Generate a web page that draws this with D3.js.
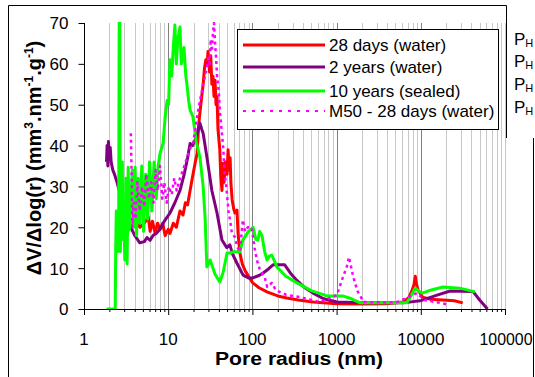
<!DOCTYPE html>
<html>
<head>
<meta charset="utf-8">
<script src="https://cdn.jsdelivr.net/npm/d3@7"></script>
<style>
  body { margin: 0; background: #fff; }
  svg { display: block; }
  text { font-family: "Liberation Sans", Arial, sans-serif; fill: #000; }
</style>
</head>
<body>
<svg id="chart" width="535" height="377"></svg>
<script>
// Pore size distributions: [pore radius (nm), dV/dlog(r)]
const water28d = [
  [3.9,26],[4.2,22],[4.6,20],[5.2,21],[5.8,22.5],[6.1,19],[6.5,21.5],[7.0,18.5],[7.5,21],[8.0,19.5],
  [8.6,21],[9.2,18],[10,19.5],[10.5,18.5],[11.5,21],[12.5,20],[13.8,24],[15,23],[16,26],[17,25.5],
  [18.2,29],[19.7,33],[21,36],[22,38],[23,45],[23.8,48],[25,52],[26,55],[27,59],[28,61],
  [29,60],[29.7,63],[31,58],[32,62],[33,55],[34,57],[35,52],[36,56],[37,50],[38,52],
  [39,44],[41,39],[42,33],[43.5,29],[44.7,35.7],[46,31],[48,36],[50,33],[51.4,39],[53,34],
  [54.4,37],[55.5,31],[57.5,26.7],[60,24.5],[62,23.5],[65.6,24.2],[67.5,18.6],[71,13.7],[76,11],[81.5,9.5],
  [90,8],[101,6.4],[120,5.2],[149,4.2],[200,3.2],[256,2.7],[350,2.2],[525,1.7],[1000,1.3],[2050,1.2],
  [4000,1.3],[6150,1.7],[7200,2.8],[7900,4.6],[8300,6],[8600,8],[8900,6],[9300,4.6],[10500,2.9],[13000,2.4],
  [18300,2.2],[25000,2],[31500,1.5]
];
const water2y = [
  [1.85,36],[1.88,40],[1.92,35],[1.95,41],[2.0,37],[2.05,39.5],[2.1,36],[2.2,34],[2.3,33],[2.47,31],
  [2.7,28],[3.0,25.5],[3.24,23.5],[3.6,20],[4.0,18],[4.6,16.2],[5.2,16.5],[5.6,17.5],[6.1,16.8],[6.6,18],
  [7.2,18.5],[8,19.5],[9,21.5],[10.5,23.5],[12,26],[13.8,29],[15.5,33],[17,37],[18.2,40.5],[19.5,40],
  [21,41.5],[22.5,43.5],[23.8,45.5],[25,44],[26,43],[28.8,37.2],[33,29],[38,23.5],[43.5,16.9],[49.7,15],
  [54,15.7],[58,13.5],[65.6,11.2],[77.5,8.3],[90,7.6],[101,7.6],[120,8.2],[134,8.8],[155,9.8],[176,10.8],
  [242,10.8],[290,8.5],[338,7],[420,5.2],[525,3.9],[700,2.5],[1006,1.7],[2050,1.5],[6150,1.5],[9800,2],
  [15600,3.4],[22300,4.4],[41600,4.3],[50000,2.2],[62000,0]
];
const sealed10y = [
  [1.85,0],[2.35,0],[2.38,15],[2.42,24],[2.5,14],[2.58,20],[2.62,72],[2.66,72],[2.7,14],[2.78,30],
  [2.85,36],[2.9,17],[2.98,22.5],[3.05,12],[3.15,32],[3.25,11],[3.35,34.7],[3.45,19.3],[3.6,26.7],[3.75,34],
  [3.9,20],[4.05,34.7],[4.2,18],[4.4,32],[4.6,21],[4.85,35],[5.1,19],[5.4,33],[5.7,22],[6.0,36],
  [6.4,24],[6.8,36],[7.2,27],[7.6,35],[8.0,38],[8.7,40.6],[9.2,47],[9.7,51],[10.1,50],[10.5,61],
  [11,57],[11.5,64],[12,69.5],[12.5,60],[13,66],[13.8,69],[14.3,60],[15.4,64],[16.2,57],[16.7,55],
  [17.5,51],[18.2,48.7],[19.7,47],[21.5,41],[23.8,37.2],[26,30],[27.4,22.5],[28.8,10.3],[30,11],[31.5,12],
  [33,10.8],[36,8.5],[41,6.6],[45,9],[50,13.7],[54,13.7],[60,14],[67,14],[71,14],[77,16.9],
  [90,19],[102,20],[110,17],[116,16.9],[122,19],[130,18],[140,14],[149,12],[160,13],[170,13.2],
  [185,11.5],[195,10.3],[250,8],[338,6.4],[500,4.5],[770,3.2],[1180,3.2],[1500,2.5],[1900,1.5],[3000,1.5],
  [6800,1.5],[7800,3.5],[8600,5.1],[9500,4.3],[10500,3.9],[13000,4.6],[18300,5.4],[29000,5.1],[44000,4.2]
];
const m50water28d = [
  [3.6,43],[3.7,30],[3.75,20],[3.9,26],[4.1,22],[4.3,31],[4.6,24],[4.9,30],[5.2,25],[5.5,33],
  [5.9,27],[6.3,31],[6.7,26],[7.1,34],[7.5,29],[8.0,35],[8.5,27],[9.0,31],[9.6,26],[10.2,30],
  [11,28],[11.8,32],[12.6,29],[13.8,32],[15,34],[16.7,37],[18,39],[19.7,40.6],[21,44],[22,47],
  [23.8,51],[25,53],[26,55],[28.9,59],[30,62],[31,60],[32,66],[33,63],[34,67.5],[35,70],
  [36,65],[37,61.7],[38,57],[40,52.9],[41,48.7],[43,44],[45,39.6],[47,33],[49,29.9],[52,24],
  [55,21],[57,18.6],[62,17.6],[66,15.2],[71,14],[77,21.8],[82,19],[88,20],[98,20],[106,15],
  [113,12],[123,9.5],[140,7.8],[150,5.4],[170,6.4],[190,4.6],[250,3.5],[367,2.9],[638,1.7],[1006,3.4],
  [1190,7.8],[1320,10.3],[1400,12.7],[1480,10.5],[1560,8.3],[1650,6.4],[1790,4.2],[2100,1.7],[4000,1.6],[5200,1.7],
  [6800,2.7],[9000,3.9],[11000,2.2],[15000,1.7],[22000,1]
];

const seriesLabels = ["28 days (water)", "2 years (water)", "10 years (sealed)", "M50 - 28 days (water)"];
const seriesData = [water28d, water2y, sealed10y, m50water28d];
const seriesColors = ["#ff0000", "#800080", "#00ff00", "#ff00ff"];
const yTicks = [0, 10, 20, 30, 40, 50, 60, 70];
const xTickLabels = ["1", "10", "100", "1000", "10000", "100000"];
const sideLabels = ["P", "P", "P", "P"];

const svg = d3.select("#chart");
const plot = { left: 84, right: 505, top: 23, bottom: 309 };

const x = d3.scaleLog().domain([1, 100000]).range([plot.left, plot.right]);
const y = d3.scaleLinear().domain([0, 70]).range([plot.bottom, plot.top]);

// outer frame
svg.append("path")
  .attr("d", "M8.5,377 V5.5 H506.5 V138")
  .attr("fill", "none").attr("stroke", "#000").attr("stroke-width", 1);
svg.append("path")
  .attr("d", "M533.5,138 V377")
  .attr("fill", "none").attr("stroke", "#000").attr("stroke-width", 1);

// vertical grid lines
const allTicks = x.ticks();
const majors = xTickLabels.map(Number);
svg.append("g").selectAll("line").data(allTicks.filter(d => d > 1)).join("line")
  .attr("x1", d => Math.round(x(d)) + 0.5).attr("x2", d => Math.round(x(d)) + 0.5)
  .attr("y1", plot.top).attr("y2", plot.bottom)
  .attr("stroke", d => (majors.includes(d) && d < 100000) ? "#808080" : "#c8c8c8")
  .attr("stroke-width", 1);

// series
svg.append("clipPath").attr("id", "clip").append("rect")
  .attr("x", plot.left).attr("y", plot.top - 1)
  .attr("width", plot.right - plot.left).attr("height", plot.bottom - plot.top + 1);

const line = d3.line().x(d => x(d[0])).y(d => y(d[1]));
const gSeries = svg.append("g").attr("clip-path", "url(#clip)");
seriesData.forEach((data, i) => {
  const p = gSeries.append("path").datum(data)
    .attr("d", line).attr("fill", "none")
    .attr("stroke", seriesColors[i])
    .attr("stroke-linejoin", "round");
  if (i === 3) p.attr("stroke-width", 2.5).attr("stroke-dasharray", "3,3.5");
  else p.attr("stroke-width", 3);
});

// axes
const xMajor = d3.axisBottom(x).tickValues(majors).tickSize(6).tickFormat(() => "");
const xMinor = d3.axisBottom(x).tickValues(allTicks.filter(d => !majors.includes(d))).tickSize(3).tickFormat(() => "");
[xMajor, xMinor].forEach(ax => {
  const g = svg.append("g").attr("transform", `translate(0,${plot.bottom})`).call(ax);
  g.select(".domain").remove();
  g.selectAll("line").attr("stroke", "#000");
});
svg.append("line").attr("x1", plot.left).attr("x2", plot.right + 1)
  .attr("y1", plot.bottom + 0.5).attr("y2", plot.bottom + 0.5).attr("stroke", "#000");

const gy = svg.append("g").attr("transform", `translate(${plot.left + 0.5},0)`)
  .call(d3.axisLeft(y).tickValues(yTicks).tickSize(6).tickPadding(10).tickFormat(d3.format("d")));
gy.select(".domain").attr("d", `M0,${plot.top}V${plot.bottom}`).attr("stroke", "#000");
gy.selectAll("line").attr("stroke", "#000");
gy.selectAll("text").attr("font-size", 17).attr("font-family", "Liberation Sans, Arial, sans-serif").attr("dy", "0.35em");

// x tick labels (the last one is squeezed against the right edge)
svg.append("g").selectAll("text").data(xTickLabels).join("text")
  .attr("x", d => d === "100000" ? 506 : x(+d)).attr("y", 345)
  .attr("text-anchor", "middle").attr("font-size", 17)
  .each(function (d) {
    if (d === "100000") d3.select(this).attr("textLength", 53).attr("lengthAdjust", "spacingAndGlyphs");
  })
  .text(d => d);

// axis titles
svg.append("text").attr("x", 299).attr("y", 365)
  .attr("text-anchor", "middle").attr("font-size", 18).attr("font-weight", "bold")
  .attr("textLength", 168).attr("lengthAdjust", "spacingAndGlyphs")
  .text("Pore radius (nm)");

const yt = svg.append("text")
  .attr("transform", "translate(41,158) rotate(-90)")
  .attr("text-anchor", "middle").attr("font-size", 20).attr("font-weight", "bold");
yt.append("tspan").text("ΔV/Δlog(r) (mm");
yt.append("tspan").attr("font-size", 12).attr("dy", -8).text("3");
yt.append("tspan").attr("dy", 8).text(".nm");
yt.append("tspan").attr("font-size", 12).attr("dy", -8).text("-1");
yt.append("tspan").attr("dy", 8).text(".g");
yt.append("tspan").attr("font-size", 12).attr("dy", -8).text("-1");
yt.append("tspan").attr("dy", 8).text(")");

// legend
const lg = svg.append("g");
lg.append("rect").attr("x", 237.5).attr("y", 29.5).attr("width", 261).attr("height", 100)
  .attr("fill", "#fff").attr("stroke", "#000");
const rowY = [45, 67, 91, 111];
seriesLabels.forEach((s, i) => {
  const l = lg.append("line").attr("x1", 243).attr("x2", 325)
    .attr("y1", rowY[i]).attr("y2", rowY[i]).attr("stroke", seriesColors[i]);
  if (i === 3) l.attr("stroke-width", 2).attr("stroke-dasharray", "3,6");
  else l.attr("stroke-width", 3);
  lg.append("text").attr("x", 329).attr("y", rowY[i] + 6).attr("font-size", 17).text(s);
});

// side labels
const sideY = [45, 67, 90, 113];
sideLabels.forEach((s, i) => {
  const t = svg.append("text").attr("x", 514).attr("y", sideY[i]).attr("font-size", 17);
  t.append("tspan").text(s);
  t.append("tspan").attr("font-size", 11).attr("dy", 2).text("H");
});
</script>
</body>
</html>
